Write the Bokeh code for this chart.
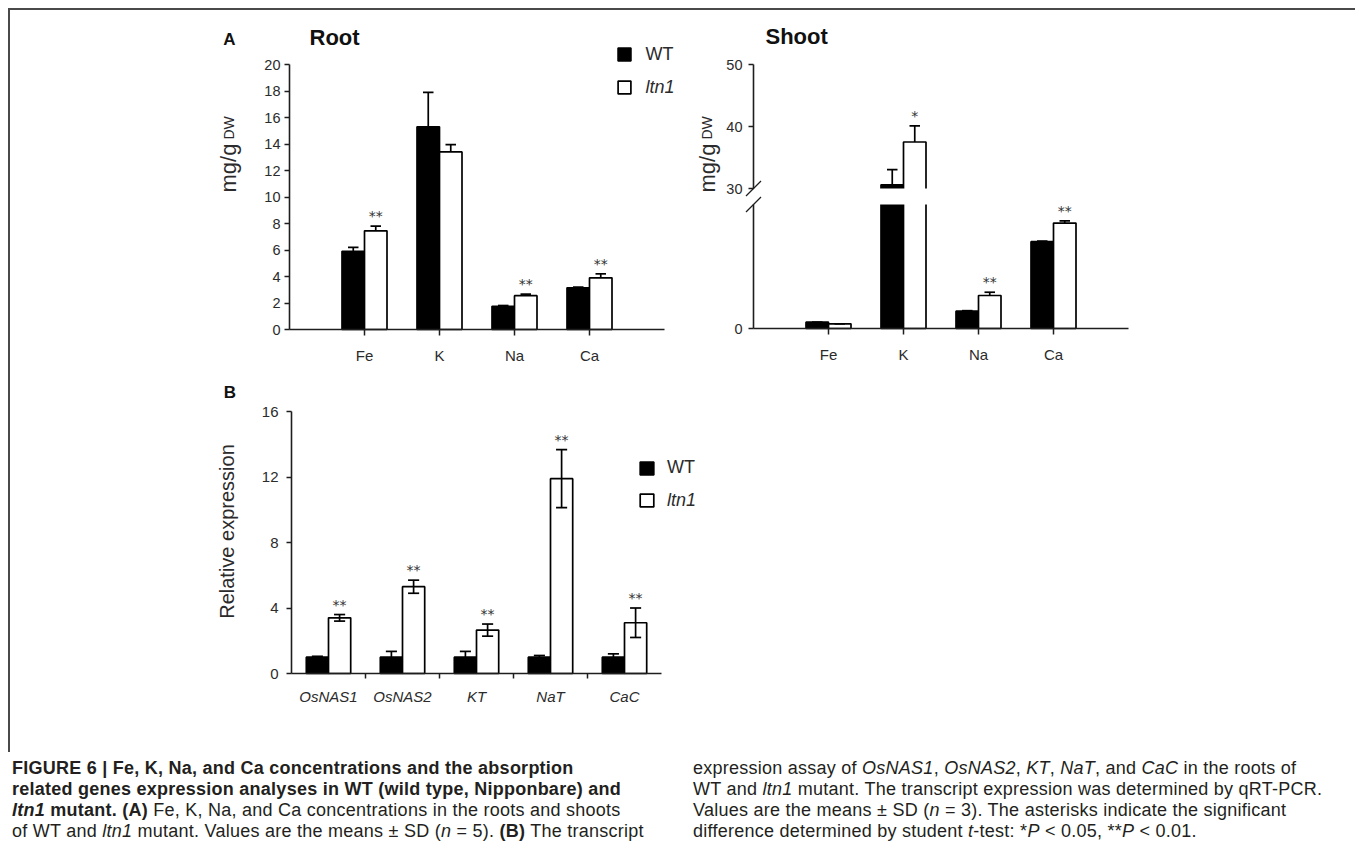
import numpy as np
from bokeh.plotting import figure
from bokeh.models import Range1d, FixedTicker, Label, Legend, LegendItem, Div, Spacer
from bokeh.layouts import column, row
from bokeh.embed import file_html
from bokeh.resources import INLINE
from bokeh.core.properties import value

# ---------------- data ----------------
elements = ["Fe", "K", "Na", "Ca"]

root_wt = [5.9, 15.3, 1.75, 3.15]
root_wt_sd = [0.3, 2.6, 0.06, 0.05]
root_ltn1 = [7.45, 13.4, 2.55, 3.9]
root_ltn1_sd = [0.35, 0.55, 0.12, 0.3]
root_sig = ["**", "", "**", "**"]
root_ticks = [0, 2, 4, 6, 8, 10, 12, 14, 16, 18, 20]

shoot_wt = [0.41, 30.6, 1.12, 5.6]
shoot_wt_sd = [0.0, 2.45, 0.03, 0.04]
shoot_ltn1 = [0.3, 37.5, 2.13, 6.8]
shoot_ltn1_sd = [0.0, 2.6, 0.21, 0.15]
shoot_sig = ["", "*", "**", "**"]
shoot_ticks = [0, 30, 40, 50]

genes = ["OsNAS1", "OsNAS2", "KT", "NaT", "CaC"]
expr_wt = [1.0, 1.0, 1.0, 1.0, 1.0]
expr_wt_sd = [0.05, 0.35, 0.35, 0.1, 0.2]
expr_ltn1 = [3.4, 5.3, 2.65, 11.9, 3.1]
expr_ltn1_sd = [0.2, 0.4, 0.37, 1.77, 0.9]
expr_sig = ["**", "**", "**", "**", "**"]
expr_ticks = [0, 4, 8, 12, 16]

# ---------------- style ----------------
FONT = "Liberation Sans"
STAR_FONT = "DejaVu Sans"
INK = "#1e1e1e"
TXT = "#2b2b2b"
LW = 1.7
BAR_W = 0.3

# broken shoot axis: lower segment 0..LOW_MAX, upper segment UP_MIN..UP_MAX
LOW_MAX = 8.0
BREAK_LO = 124.0
BREAK_HI = 140.0
UP_MIN = 30.0
UP_PX = 6.2


def fshoot(v):
    if v <= LOW_MAX:
        return round(v * BREAK_LO / LOW_MAX, 3)
    return round(BREAK_HI + (v - UP_MIN) * UP_PX, 3)


class Panel:
    """A figure whose frame fills its whole canvas; (ox, oy) is the page pixel of data (0, 0)."""

    def __init__(self, cx0, cy0, w, h, ox, oy, kx, ky):
        self.cx0, self.cy0, self.w, self.h = cx0, cy0, w, h
        self.ox, self.oy, self.kx, self.ky = ox, oy, kx, ky
        xr = Range1d((cx0 - ox) / kx, (cx0 + w - ox) / kx)
        yr = Range1d((oy - (cy0 + h)) / ky, (oy - cy0) / ky)
        p = figure(width=w, height=h, x_range=xr, y_range=yr, title=None,
                   output_backend="svg", toolbar_location=None,
                   min_border=0, min_border_left=0, min_border_right=0,
                   min_border_top=0, min_border_bottom=0)
        p.xgrid.visible = False
        p.ygrid.visible = False
        p.outline_line_color = None
        p.background_fill_color = "white"
        p.border_fill_color = "white"
        p.xaxis.fixed_location = 0
        p.yaxis.fixed_location = 0
        self.p = p

    def x(self, px):
        return (px - self.ox) / self.kx

    def y(self, py):
        return (self.oy - py) / self.ky

    def loc(self, px_left, py_bottom):
        return (px_left - self.cx0, self.cy0 + self.h - py_bottom)


def style_axis(ax, size="14px"):
    ax.axis_line_color = INK
    ax.axis_line_width = 1.6
    ax.major_tick_line_color = INK
    ax.major_tick_line_width = 1.5
    ax.minor_tick_line_color = None
    ax.major_label_text_font = FONT
    ax.major_label_text_font_size = size
    ax.major_label_text_color = TXT


def make_legend(renderer, label, loc, italic, gw, gh, standoff):
    return Legend(items=[LegendItem(label=label, renderers=[renderer])],
                  location=loc, glyph_width=gw, glyph_height=gh,
                  label_standoff=standoff, padding=0, margin=0, spacing=0,
                  border_line_color=None, background_fill_alpha=0,
                  label_text_font=FONT, label_text_font_size="18px",
                  label_text_color=TXT,
                  label_text_font_style="italic" if italic else "normal")


def add_bars(p, xw, xl, wt, ltn1):
    r1 = p.vbar(x=xw, top=wt, bottom=0, width=BAR_W, fill_color="black",
                line_color="black", line_width=LW)
    r2 = p.vbar(x=xl, top=ltn1, bottom=0, width=BAR_W, fill_color="white",
                line_color="black", line_width=LW)
    return r1, r2


def add_err(p, xs, lo, hi, cap, both=False):
    p.segment(x0=xs, y0=lo, x1=xs, y1=hi, line_color="black", line_width=LW)
    p.segment(x0=[x - cap for x in xs], y0=hi, x1=[x + cap for x in xs], y1=hi,
              line_color="black", line_width=LW)
    if both:
        p.segment(x0=[x - cap for x in xs], y0=lo, x1=[x + cap for x in xs], y1=lo,
                  line_color="black", line_width=LW)


def add_stars(p, xs, ys, txt):
    p.text(x=xs, y=ys, text=txt, text_font=value(STAR_FONT), text_font_size="14px",
           text_align="center", text_baseline="bottom", y_offset=-2,
           text_color="#333333")


def label(P, px, py, text, size, bold=False, italic=False, align="left",
          baseline="middle", angle=0.0, color=TXT):
    style = "bold" if bold else ("italic" if italic else "normal")
    P.p.add_layout(Label(x=P.x(px), y=P.y(py), text=text, angle=angle, text_font=FONT,
                         text_font_style=style, text_font_size=size, text_align=align,
                         text_baseline=baseline, text_color=color))


# ============ Root (panel A left) ============
R = Panel(10, 10, 678, 370, 289, 329, 75.0, 13.25)
root = R.p
cx = [i + 1 for i in range(len(elements))]
xw = [c - BAR_W / 2 for c in cx]
xl = [c + BAR_W / 2 for c in cx]
rw, rl = add_bars(root, xw, xl, root_wt, root_ltn1)
add_err(root, xw, root_wt, [v + e for v, e in zip(root_wt, root_wt_sd)], 0.07)
add_err(root, xl, root_ltn1, [v + e for v, e in zip(root_ltn1, root_ltn1_sd)], 0.07)
add_stars(root, xl, [v + e for v, e in zip(root_ltn1, root_ltn1_sd)], root_sig)

root.yaxis.ticker = FixedTicker(ticks=root_ticks)
root.yaxis.bounds = (0, 20)
style_axis(root.yaxis[0], "14.5px")
root.yaxis.major_tick_out = 5
root.yaxis.major_tick_in = 0
root.yaxis.major_label_standoff = 4
root.xaxis.ticker = FixedTicker(ticks=cx)
root.xaxis.bounds = (0, 5)
root.xaxis.major_label_overrides = {c: e for c, e in zip(cx, elements)}
style_axis(root.xaxis[0], "15px")
root.xaxis.major_tick_out = 6
root.xaxis.major_tick_in = 0
root.xaxis.major_label_standoff = 11

label(R, 229, 39, "A", "17px", bold=True, align="center", color="#111111")
label(R, 309, 37, "Root", "22px", bold=True, color="#111111")
label(R, 228, 192, "mg/g", "22px", baseline="alphabetic", angle=np.pi / 2)
label(R, 228, 139, "DW", "14px", baseline="alphabetic", angle=np.pi / 2)
root.add_layout(make_legend(rw, "WT", R.loc(615.5, 64.5), False, 16, 16, 14))
root.add_layout(make_legend(rl, "ltn1", R.loc(615.5, 97.5), True, 16, 16, 14))

# ============ Shoot (panel A right) ============
S = Panel(688, 10, 667, 370, 753, 328, 75.0, 1.0)
shoot = S.p
s_wt = [fshoot(v) for v in shoot_wt]
s_lt = [fshoot(v) for v in shoot_ltn1]
s_wt_hi = [fshoot(v + e) for v, e in zip(shoot_wt, shoot_wt_sd)]
s_lt_hi = [fshoot(v + e) for v, e in zip(shoot_ltn1, shoot_ltn1_sd)]
add_bars(shoot, xw, xl, s_wt, s_lt)
# break gap through the bars that cross the axis break
brk = [c for c, a, b in zip(cx, shoot_wt, shoot_ltn1) if max(a, b) > LOW_MAX]
shoot.quad(left=[c - 0.34 for c in brk], right=[c + 0.34 for c in brk],
           bottom=BREAK_LO, top=BREAK_HI, fill_color="white", line_color=None)
add_err(shoot, xw, s_wt, s_wt_hi, 0.07)
add_err(shoot, xl, s_lt, s_lt_hi, 0.07)
add_stars(shoot, xl, s_lt_hi, shoot_sig)

S_TOP = fshoot(shoot_ticks[-1])
# broken y axis line with slashes
shoot.segment(x0=[0, 0], y0=[0, BREAK_HI], x1=[0, 0], y1=[BREAK_LO, S_TOP],
              line_color=INK, line_width=1.6)
d = 7.5 / 75.0
shoot.segment(x0=[-d, -d], y0=[BREAK_LO - 7.5, BREAK_HI - 7.5],
              x1=[d, d], y1=[BREAK_LO + 7.5, BREAK_HI + 7.5],
              line_color=INK, line_width=1.3)

sticks = [fshoot(v) for v in shoot_ticks]
shoot.yaxis.ticker = FixedTicker(ticks=sticks)
shoot.yaxis.bounds = (0, S_TOP)
shoot.yaxis.major_label_overrides = {t: str(v) for t, v in zip(sticks, shoot_ticks)}
style_axis(shoot.yaxis[0], "14.5px")
shoot.yaxis.axis_line_color = None
shoot.yaxis.major_tick_out = 5
shoot.yaxis.major_tick_in = 0
shoot.yaxis.major_label_standoff = 6
shoot.xaxis.ticker = FixedTicker(ticks=cx)
shoot.xaxis.bounds = (0, 5)
shoot.xaxis.major_label_overrides = {c: e for c, e in zip(cx, elements)}
style_axis(shoot.xaxis[0], "15px")
shoot.xaxis.major_tick_out = 6
shoot.xaxis.major_tick_in = 0
shoot.xaxis.major_label_standoff = 11

label(S, 765, 36, "Shoot", "22px", bold=True, color="#111111")
label(S, 706.5, 192, "mg/g", "22px", baseline="alphabetic", angle=np.pi / 2)
label(S, 706.5, 139, "DW", "14px", baseline="alphabetic", angle=np.pi / 2)

# ============ Panel B ============
B = Panel(10, 380, 750, 372, 291, 673, 74.0, 16.375)
pb = B.p
gx = [i + 0.5 for i in range(len(genes))]
gw = [c - BAR_W / 2 for c in gx]
gl = [c + BAR_W / 2 for c in gx]
bw, bl = add_bars(pb, gw, gl, expr_wt, expr_ltn1)
add_err(pb, gw, [v - e for v, e in zip(expr_wt, expr_wt_sd)],
        [v + e for v, e in zip(expr_wt, expr_wt_sd)], 0.075, both=True)
add_err(pb, gl, [v - e for v, e in zip(expr_ltn1, expr_ltn1_sd)],
        [v + e for v, e in zip(expr_ltn1, expr_ltn1_sd)], 0.075, both=True)
add_stars(pb, gl, [v + e for v, e in zip(expr_ltn1, expr_ltn1_sd)], expr_sig)

pb.yaxis.ticker = FixedTicker(ticks=expr_ticks)
pb.yaxis.bounds = (0, 16)
style_axis(pb.yaxis[0], "15px")
pb.yaxis.major_tick_out = 5
pb.yaxis.major_tick_in = 0
pb.yaxis.major_label_standoff = 8
pb.xaxis.ticker = FixedTicker(ticks=gx, minor_ticks=[1, 2, 3, 4])
pb.xaxis.bounds = (0, 5)
pb.xaxis.major_label_overrides = {c: g for c, g in zip(gx, genes)}
style_axis(pb.xaxis[0], "15px")
pb.xaxis.major_label_text_font_style = "italic"
pb.xaxis.major_tick_out = 0
pb.xaxis.major_tick_in = 0
pb.xaxis.minor_tick_line_color = INK
pb.xaxis.minor_tick_line_width = 1.5
pb.xaxis.minor_tick_out = 5
pb.xaxis.minor_tick_in = 0
pb.xaxis.major_label_standoff = 9

label(B, 229.5, 392, "B", "17px", bold=True, align="center", color="#111111")
label(B, 226, 531, "Relative expression", "20px", align="center", baseline="alphabetic",
      angle=np.pi / 2)
pb.add_layout(make_legend(bw, "WT", B.loc(638, 478), False, 17, 16, 12))
pb.add_layout(make_legend(bl, "ltn1", B.loc(638, 510.5), True, 17, 16, 12))

# ============ caption ============
cap_html = """
<div style="position:relative;width:1355px;height:104px;font-family:'Liberation Sans',Arial,sans-serif;
font-size:18px;letter-spacing:0.25px;line-height:21px;color:#231f20;">
<div style="position:absolute;left:12px;top:6px;white-space:nowrap;">
<b>FIGURE 6 | Fe, K, Na, and Ca concentrations and the absorption</b><br>
<b>related genes expression analyses in WT (wild type, Nipponbare) and</b><br>
<b><i>ltn1</i> mutant. (A)</b> Fe, K, Na, and Ca concentrations in the roots and shoots<br>
of WT and <i>ltn1</i> mutant. Values are the means &plusmn; SD (<i>n</i> = 5). <b>(B)</b> The transcript
</div>
<div style="position:absolute;left:693px;top:6px;white-space:nowrap;">
expression assay of <i>OsNAS1</i>, <i>OsNAS2</i>, <i>KT</i>, <i>NaT</i>, and <i>CaC</i> in the roots of<br>
WT and <i>ltn1</i> mutant. The transcript expression was determined by qRT-PCR.<br>
Values are the means &plusmn; SD (<i>n</i> = 3). The asterisks indicate the significant<br>
difference determined by student <i>t</i>-test: *<i>P</i> &lt; 0.05, **<i>P</i> &lt; 0.01.
</div>
</div>
"""
caption = Div(text=cap_html, width=1355, height=104, margin=0)

# ============ page layout ============
LINE = {"background-color": "#4a4a4a"}
top_line = row(Spacer(width=8, height=2, margin=0),
               Div(text="", width=1347, height=2, margin=0, styles=LINE), margin=0)
left_line = Div(text="", width=2, height=742, margin=0, styles=LINE)
charts = column(row(root, shoot, margin=0), row(pb, margin=0), margin=0)
body = row(Spacer(width=8, height=742, margin=0), left_line, charts, margin=0)
page = column(Spacer(width=1355, height=8, margin=0), top_line, body, caption, margin=0)

open("out.html", "w").write(file_html(page, INLINE, title="Figure 6"))
